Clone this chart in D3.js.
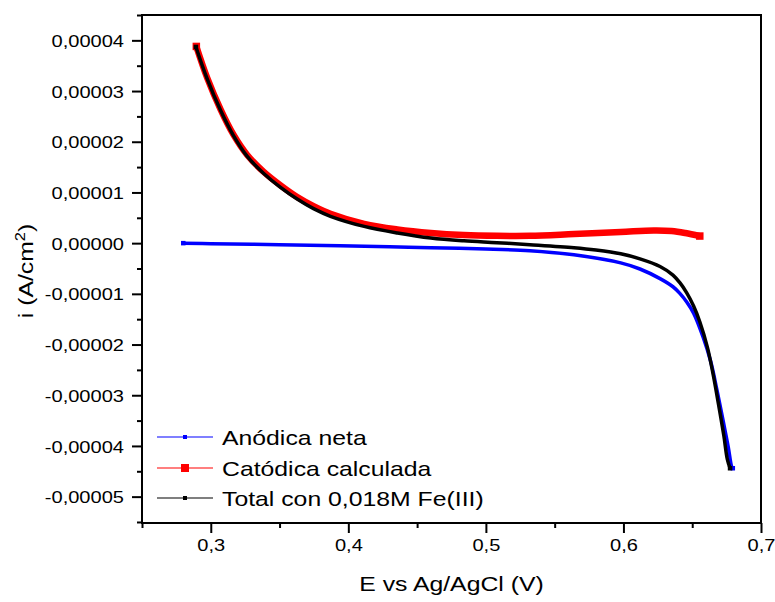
<!DOCTYPE html>
<html>
<head>
<meta charset="utf-8">
<script src="https://cdn.jsdelivr.net/npm/d3@7"></script>
<style>
  html, body { margin: 0; padding: 0; background: #fff; }
  svg { display: block; font-family: "Liberation Sans", Arial, sans-serif; }
</style>
</head>
<body>
<svg id="chart" width="775" height="602"></svg>
<script>
// ---------------- DATA ----------------
const seriesNames = ["Anódica neta", "Catódica calculada", "Total con 0,018M Fe(III)"];

const anodicE = [0.280, 0.300, 0.350, 0.394, 0.430, 0.460, 0.500, 0.532, 0.564, 0.598, 0.612, 0.6266, 0.636, 0.641, 0.646, 0.651, 0.658, 0.6635, 0.668, 0.6726, 0.6762, 0.6787, 0.6795];
const anodicI = [0.0e-5, -0.01e-5, -0.03e-5, -0.05e-5, -0.07e-5, -0.09e-5, -0.115e-5, -0.15e-5, -0.23e-5, -0.39e-5, -0.51e-5, -0.70e-5, -0.86e-5, -0.99e-5, -1.16e-5, -1.38e-5, -1.86e-5, -2.34e-5, -2.90e-5, -3.52e-5, -4.02e-5, -4.41e-5, -4.44e-5];

const cathodicE = [0.2895, 0.2974, 0.3071, 0.3165, 0.3265, 0.3383, 0.3507, 0.3628, 0.3747, 0.387, 0.4115, 0.4357, 0.460, 0.484, 0.508, 0.532, 0.564, 0.598, 0.622, 0.635, 0.645, 0.6555];
const cathodicI = [3.88e-5, 3.26e-5, 2.64e-5, 2.14e-5, 1.74e-5, 1.41e-5, 1.14e-5, 0.91e-5, 0.73e-5, 0.58e-5, 0.38e-5, 0.27e-5, 0.20e-5, 0.16e-5, 0.145e-5, 0.145e-5, 0.18e-5, 0.22e-5, 0.25e-5, 0.24e-5, 0.20e-5, 0.14e-5];

const totalE = [0.2892, 0.2974, 0.3071, 0.3165, 0.3265, 0.3383, 0.3507, 0.3628, 0.3747, 0.387, 0.4115, 0.4357, 0.460, 0.484, 0.508, 0.532, 0.564, 0.580, 0.598, 0.612, 0.6266, 0.636, 0.641, 0.646, 0.651, 0.6555, 0.661, 0.665, 0.669, 0.673, 0.6755, 0.6775];
const totalI = [3.87e-5, 3.24e-5, 2.62e-5, 2.12e-5, 1.71e-5, 1.38e-5, 1.10e-5, 0.87e-5, 0.68e-5, 0.53e-5, 0.33e-5, 0.20e-5, 0.10e-5, 0.045e-5, 0.01e-5, -0.03e-5, -0.09e-5, -0.135e-5, -0.21e-5, -0.31e-5, -0.46e-5, -0.63e-5, -0.78e-5, -0.98e-5, -1.24e-5, -1.55e-5, -2.05e-5, -2.56e-5, -3.16e-5, -3.80e-5, -4.26e-5, -4.44e-5];

const xMajorTicks = [0.3, 0.4, 0.5, 0.6, 0.7];
const xTickLabels = ["0,3", "0,4", "0,5", "0,6", "0,7"];
const xMinorTicks = [0.25, 0.35, 0.45, 0.55, 0.65];

const yMajorTicks = [-5e-5, -4e-5, -3e-5, -2e-5, -1e-5, 0, 1e-5, 2e-5, 3e-5, 4e-5];
const yTickLabels = ["-0,00005", "-0,00004", "-0,00003", "-0,00002", "-0,00001", "0,00000", "0,00001", "0,00002", "0,00003", "0,00004"];
const yMinorTicks = [-5.5e-5, -4.5e-5, -3.5e-5, -2.5e-5, -1.5e-5, -0.5e-5, 0.5e-5, 1.5e-5, 2.5e-5, 3.5e-5, 4.5e-5];

const xDomain = [0.25, 0.70];
const yDomain = [-5.52e-5, 4.5e-5];

// ---------------- LAYOUT ----------------
const L = 142, R = 761, T = 15, B = 523;
const STRETCH = 1.18;

const svg = d3.select("#chart");
const x = d3.scaleLinear().domain(xDomain).range([L, R]);
const y = d3.scaleLinear().domain(yDomain).range([B, T]);

function stretch(sel, k) {
  sel.each(function () {
    const len = this.getComputedTextLength();
    this.setAttribute("textLength", len * k);
    this.setAttribute("lengthAdjust", "spacingAndGlyphs");
  });
}

// ---------------- SERIES ----------------
const series = [
  { name: seriesNames[0], E: anodicE, I: anodicI, color: "#0000ff", width: 3.5, marker: 4 },
  { name: seriesNames[1], E: cathodicE, I: cathodicI, color: "#ff0000", width: 6.5, marker: 8 },
  { name: seriesNames[2], E: totalE, I: totalI, color: "#000000", width: 3.5, marker: 4 }
];

const line = d3.line()
  .x(d => x(d[0]))
  .y(d => y(d[1]))
  .curve(d3.curveCatmullRom.alpha(0.5));

const plot = svg.append("g");
series.forEach(s => {
  const pts = s.E.map((e, i) => [e, s.I[i]]);
  plot.append("path")
    .datum(pts)
    .attr("fill", "none")
    .attr("stroke", s.color)
    .attr("stroke-width", s.width)
    .attr("stroke-linejoin", "round")
    .attr("d", line);
  const ends = [pts[0], pts[pts.length - 1]];
  plot.selectAll(null).data(ends).enter().append("rect")
    .attr("x", d => x(d[0]) - s.width / 2 - 0.5)
    .attr("y", d => y(d[1]) - s.width / 2 - 0.5)
    .attr("width", s.width + 1)
    .attr("height", s.width + 1)
    .attr("fill", s.color);
});

// ---------------- AXES ----------------
const fmtX = (d, i) => xTickLabels[i];
const fmtY = (d, i) => yTickLabels[i];

const gx = svg.append("g").attr("transform", `translate(0,${B})`)
  .call(d3.axisBottom(x).tickValues(xMajorTicks).tickFormat(fmtX).tickSize(10).tickSizeOuter(0).tickPadding(6));
const gxm = svg.append("g").attr("transform", `translate(0,${B})`)
  .call(d3.axisBottom(x).tickValues(xMinorTicks).tickFormat("").tickSize(5).tickSizeOuter(0));

const gy = svg.append("g").attr("transform", `translate(${L},0)`)
  .call(d3.axisLeft(y).tickValues(yMajorTicks).tickFormat(fmtY).tickSize(10).tickSizeOuter(0).tickPadding(8));
const gym = svg.append("g").attr("transform", `translate(${L},0)`)
  .call(d3.axisLeft(y).tickValues(yMinorTicks).tickFormat("").tickSize(5).tickSizeOuter(0));

[gx, gxm, gy, gym].forEach(g => {
  g.select(".domain").remove();
  g.selectAll(".tick line").attr("stroke", "#000").attr("stroke-width", 2);
  g.selectAll("text").attr("fill", "#000").attr("font-family", "Liberation Sans, Arial, sans-serif").attr("font-size", 17);
});
gx.selectAll(".tick text").attr("dy", "0.71em");
gy.selectAll(".tick text").attr("dy", "0.36em");
stretch(gx.selectAll(".tick text"), STRETCH);
stretch(gy.selectAll(".tick text"), STRETCH);

// frame
svg.append("rect")
  .attr("x", L).attr("y", T)
  .attr("width", R - L).attr("height", B - T)
  .attr("fill", "none").attr("stroke", "#000").attr("stroke-width", 2);

// axis titles
const xt = svg.append("text")
  .attr("x", (L + R) / 2).attr("y", 591)
  .attr("text-anchor", "middle")
  .attr("font-size", 21).attr("fill", "#000")
  .text("E vs Ag/AgCl (V)");
stretch(xt, STRETCH);

const yt = svg.append("g")
  .attr("transform", `translate(33,${(T + B) / 2 + 2}) rotate(-90) scale(${STRETCH},1)`)
  .append("text")
  .attr("text-anchor", "middle")
  .attr("font-size", 21).attr("fill", "#000");
yt.append("tspan").text("i (A/cm");
yt.append("tspan").attr("font-size", 14).attr("dy", -8).text("2");
yt.append("tspan").attr("dy", 8).text(")");

// ---------------- LEGEND ----------------
const legendRows = [437, 468, 498];
const leg = svg.append("g");
series.forEach((s, i) => {
  const yy = legendRows[i];
  leg.append("line")
    .attr("x1", 157).attr("x2", 213)
    .attr("y1", yy).attr("y2", yy)
    .attr("stroke", s.color).attr("stroke-width", 1.2);
  leg.append("rect")
    .attr("x", 185 - s.marker / 2).attr("y", yy - s.marker / 2)
    .attr("width", s.marker).attr("height", s.marker)
    .attr("fill", s.color);
  const t = leg.append("text")
    .attr("x", 222).attr("y", yy + 7.5)
    .attr("font-size", 21).attr("fill", "#000")
    .text(s.name);
  stretch(t, STRETCH);
});
</script>
</body>
</html>
